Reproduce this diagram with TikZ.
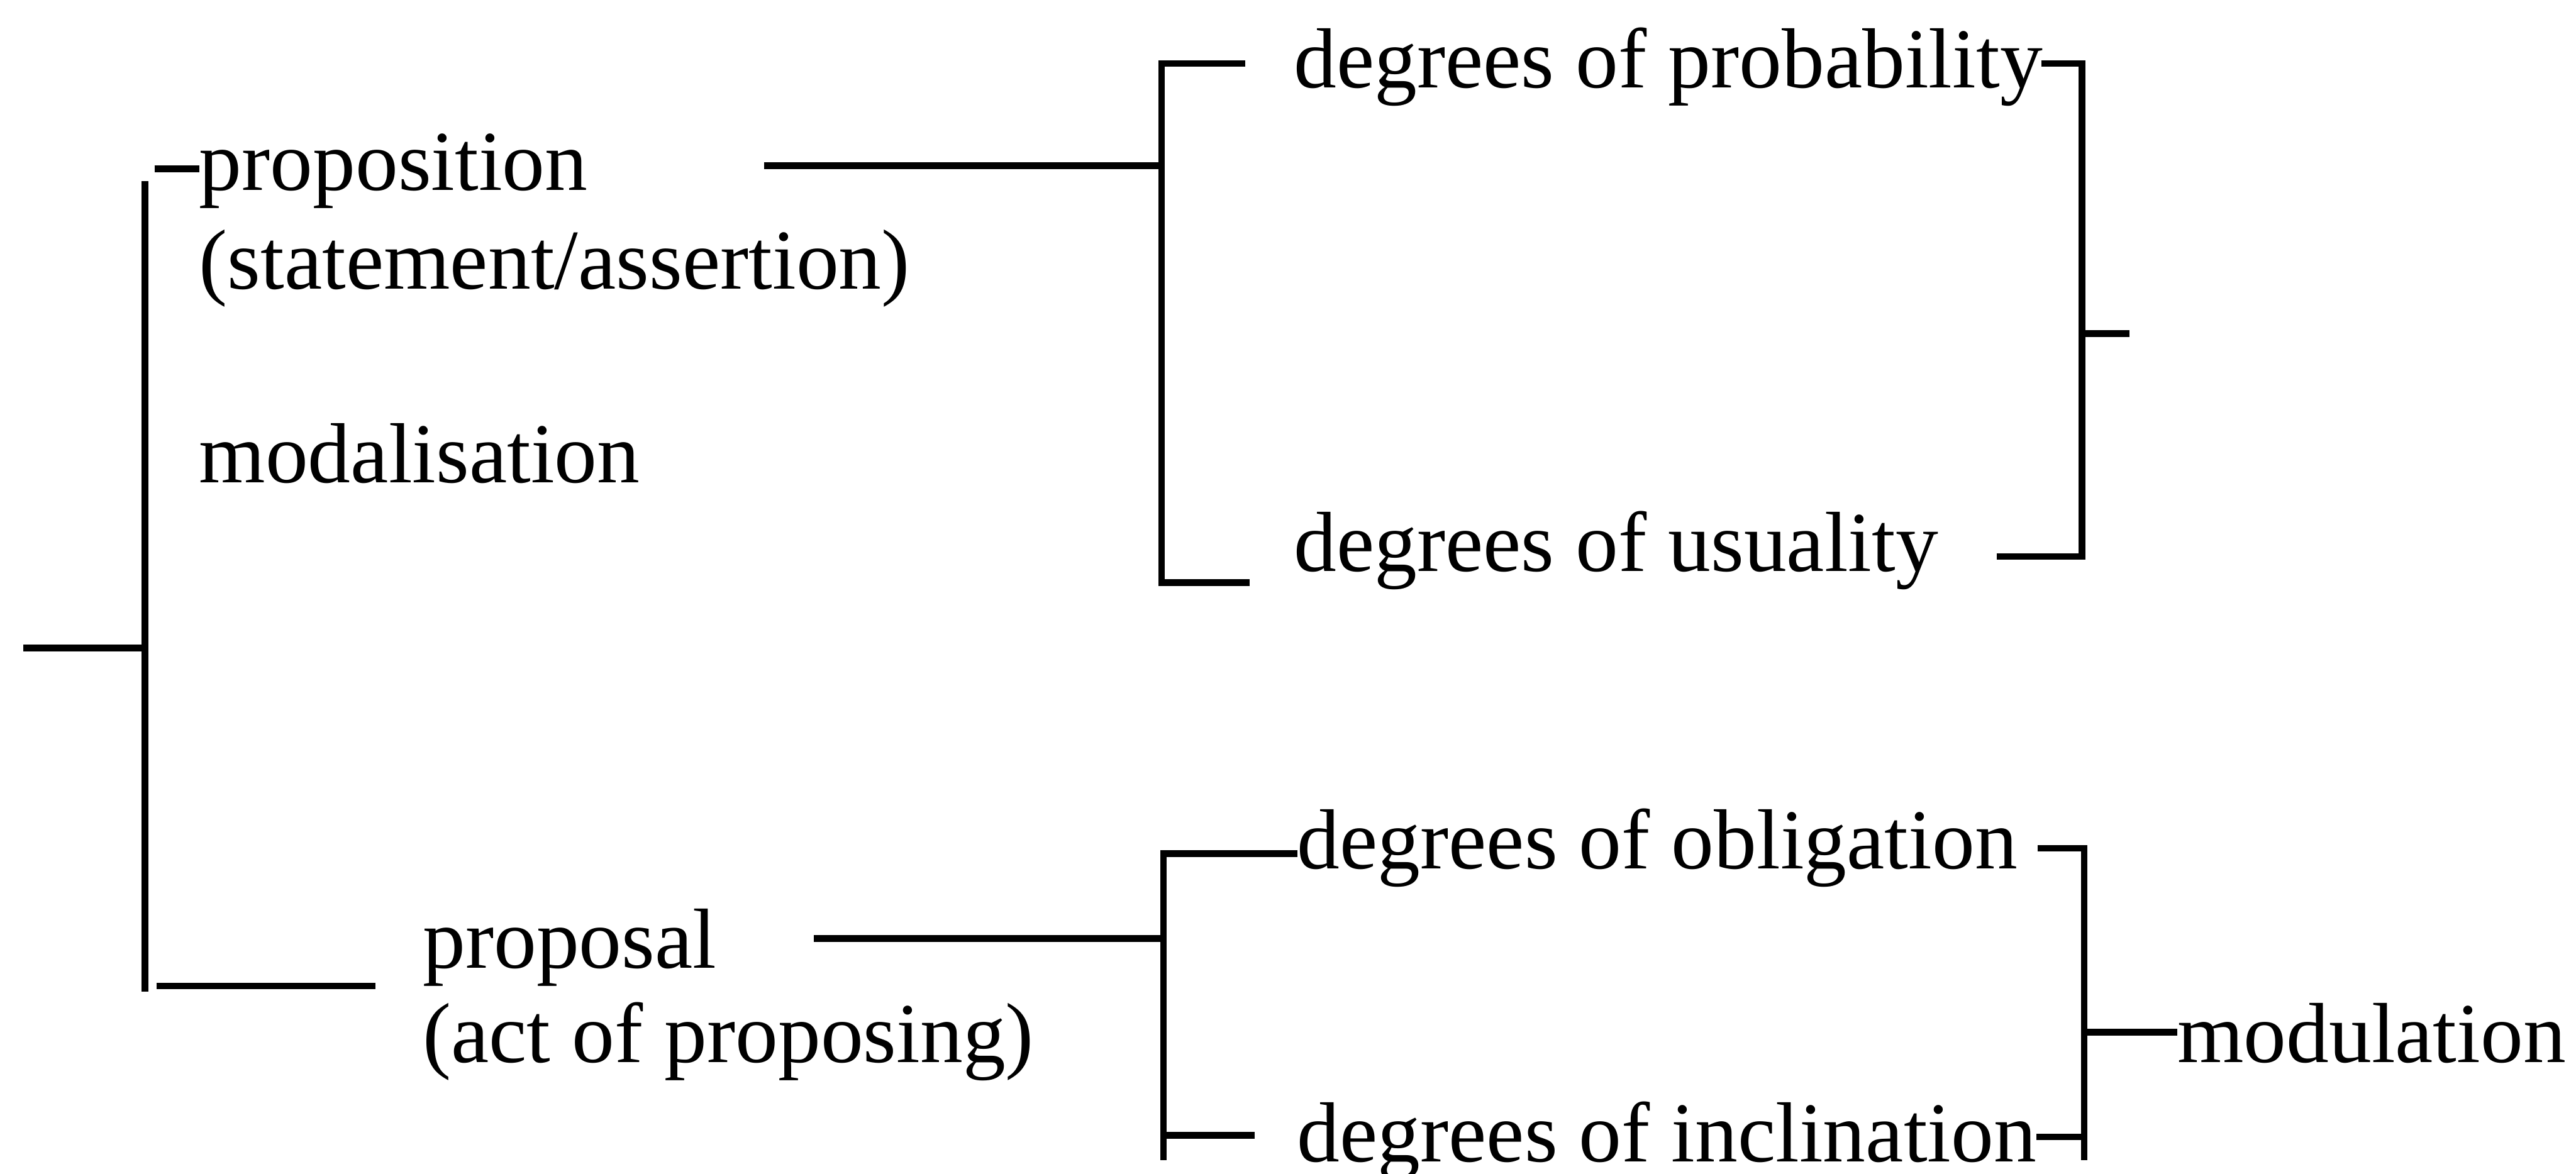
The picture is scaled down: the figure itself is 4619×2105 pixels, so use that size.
\documentclass[tikz,border=0pt]{standalone}
\usepackage{fontspec}
\setmainfont{Liberation Serif}
\begin{document}
\begin{tikzpicture}[x=0.01cm, y=-0.01cm,
  every node/.style={inner sep=0pt, outer sep=0pt, anchor=base west,
    font=\fontsize{43.5}{52}\selectfont},
  net/.style={line width=3.4pt, line cap=butt}]
\useasboundingbox (0,0) rectangle (4619,2105);

% terms of the network
\node (prop)    at (357,341)   {proposition};
\node (propgl)  at (357,518)   {(statement/assertion)};
\node (modal)   at (357,866)   {modalisation};
\node (pps)     at (758,1736)  {proposal};
\node (ppsgl)   at (758,1905)  {(act of proposing)};
\node (prob)    at (2320,157)  {degrees of probability};
\node (usu)     at (2320,1025) {degrees of usuality};
\node (obl)     at (2326,1558) {degrees of obligation};
\node (incl)    at (2326,2083) {degrees of inclination};
\node (modul)   at (3904,1905) {modulation};

% entry point and first choice
\coordinate (root)  at (42,1162);
\coordinate (lt)    at (260,325);
\coordinate (lb)    at (260,1778);
\draw[net] (root) -- (260,1162);
\draw[net] (lt) -- (lb);
\draw[net] (277,303) -- (prop.west |- 0,303);
\draw[net] (281,1768) -- (673,1768);

% proposition branch
\coordinate (b1x) at (2083,297);
\draw[net] (1370,297) -- (b1x);
\draw[net] (2233,114) -- (2083,114) -- (2083,1045) -- (2241,1045);
\draw[net] (3660,114) -- (3733,114) -- (3733,998) -- (3580,998);
\coordinate (b1out) at (3818,598);
\draw[net] (3733,598) -- (b1out);

% proposal branch
\coordinate (b2x) at (2086,1683);
\draw[net] (1459,1683) -- (b2x);
\draw[net] (obl.west |- 0,1531) -- (2086,1531) -- (2086,2080);
\draw[net] (2086,2036) -- (2250,2036);
\draw[net] (3654,1521) -- (3737,1521) -- (3737,2080);
\draw[net] (incl.east |- 0,2039) -- (3737,2039);
\draw[net] (3737,1851) -- (modul.west |- 0,1851);
\end{tikzpicture}
\end{document}
